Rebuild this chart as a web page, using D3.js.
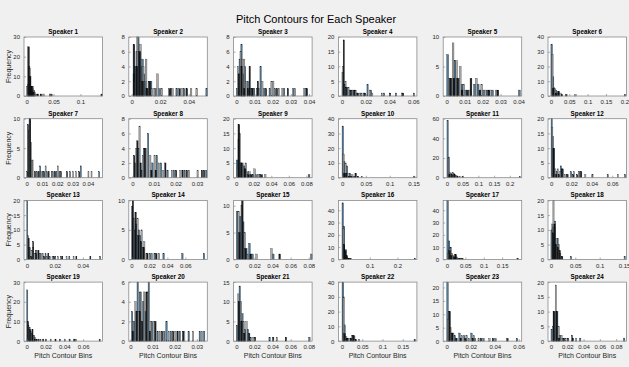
<!DOCTYPE html>
<html><head><meta charset="utf-8">
<script src="https://cdn.jsdelivr.net/npm/d3@7/dist/d3.min.js"></script>
<style>
html,body{margin:0;padding:0;background:#f0f0f0;}
svg{display:block;font-family:"Liberation Sans",Arial,Helvetica,sans-serif;}
</style></head>
<body><svg id="c" width="629" height="367"></svg>
<script>
const speakers = d3.range(1, 25).map(i => "Speaker " + i);
const xDomains = [
  [-0.005,0.141],[-0.002,0.053],[-0.0015,0.0417],[-0.003,0.063],[-0.002,0.0418],[-0.008,0.206],
  [-0.0018,0.0495],[-0.0017,0.0348],[-0.003,0.0865],[-0.0077,0.157],[-0.012,0.238],[-0.003,0.074],
  [-0.002,0.054],[-0.003,0.0845],[-0.003,0.0837],[-0.013,0.27],[-0.01,0.203],[-0.006,0.155],
  [-0.0029,0.0806],[-0.0007,0.0347],[-0.003,0.0837],[-0.009,0.185],[-0.003,0.0625],[-0.0037,0.0927]
];
const yMaxes = [30,8,8,20,10,40, 10,8,20,40,60,20, 20,10,11,48,48,20, 30,6,15,40,22,20];
const xTicks = [
  [0,0.05,0.1],[0,0.02,0.04],[0,0.01,0.02,0.03,0.04],[0,0.02,0.04,0.06],[0,0.01,0.02,0.03,0.04],[0,0.05,0.1,0.15,0.2],
  [0,0.01,0.02,0.03,0.04],[0,0.01,0.02,0.03],[0,0.02,0.04,0.06,0.08],[0,0.05,0.1,0.15],[0,0.05,0.1,0.15,0.2],[0,0.02,0.04,0.06],
  [0,0.02,0.04],[0,0.02,0.04,0.06],[0,0.02,0.04,0.06,0.08],[0,0.1,0.2],[0,0.05,0.1,0.15],[0,0.05,0.1,0.15],
  [0,0.02,0.04,0.06],[0,0.01,0.02,0.03],[0,0.02,0.04,0.06,0.08],[0,0.05,0.1,0.15],[0,0.02,0.04,0.06],[0,0.02,0.04,0.06,0.08]
];
const yTicks = [
  [0,10,20,30],[0,2,4,6,8],[0,2,4,6,8],[0,5,10,15,20],[0,5,10],[0,10,20,30,40],
  [0,5,10],[0,2,4,6,8],[0,5,10,15,20],[0,10,20,30,40],[0,20,40,60],[0,5,10,15,20],
  [0,5,10,15,20],[0,5,10],[0,5,10],[0,10,20,30,40],[0,10,20,30,40],[0,5,10,15,20],
  [0,10,20,30],[0,2,4,6],[0,5,10,15],[0,10,20,30,40],[0,5,10,15,20],[0,5,10,15,20]
];
const binWidths = [0.003,0.0012,0.0007,0.001,0.001,0.004, 0.0006,0.0006,0.002,0.003,0.004,0.0012,
  0.0007,0.0015,0.0017,0.005,0.004,0.0025, 0.0012,0.0006,0.0015,0.004,0.0012,0.0017];
const blueBins = [
  [[0,5],[0.003,15],[0.006,5],[0.009,4],[0.012,3],[0.015,1],[0.042,1],[0.138,1]],
  [[0.001,3],[0.002,4],[0.003,6],[0.004,8],[0.005,6],[0.006,4],[0.007,5],[0.008,3],[0.009,2],[0.011,1],[0.013,2],[0.016,1],[0.019,1],[0.027,1],[0.031,1],[0.036,1],[0.052,1]],
  [[0,1],[0.0015,5],[0.0025,7],[0.0035,3],[0.0045,4],[0.006,2],[0.008,1],[0.0095,1],[0.011,1],[0.013,4],[0.015,1],[0.018,1],[0.021,1],[0.026,1],[0.031,1],[0.038,1]],
  [[0,8],[0.002,4],[0.004,3],[0.006,2],[0.009,2],[0.012,1],[0.015,1],[0.018,1],[0.021,4],[0.024,2],[0.035,1],[0.045,1],[0.06,1]],
  [[0,7],[0.002,3],[0.004,6],[0.006,3],[0.008,2],[0.01,1],[0.015,2],[0.017,2],[0.02,1],[0.022,1],[0.025,1],[0.04,1]],
  [[0,35],[0.004,13],[0.008,5],[0.012,4],[0.02,3],[0.2,1]],
  [[0,1],[0.0015,10],[0.003,3],[0.0065,1],[0.0085,2],[0.01,1],[0.013,1],[0.016,1],[0.019,1],[0.021,1],[0.028,1],[0.035,2],[0.047,1]],
  [[0.001,2],[0.0025,4],[0.004,1],[0.005,4],[0.007,6],[0.009,2],[0.011,3],[0.013,2],[0.016,1],[0.019,1],[0.024,1],[0.034,1]],
  [[0,6],[0.002,13],[0.004,5],[0.008,4],[0.012,2],[0.018,1],[0.022,1],[0.026,1],[0.082,1]],
  [[0,35],[0.003,11],[0.009,8],[0.015,3],[0.024,1],[0.15,1]],
  [[0,58],[0.004,21],[0.012,4],[0.02,4],[0.028,2],[0.23,1]],
  [[0,20],[0.0012,14],[0.0024,10],[0.005,2],[0.009,4],[0.011,3],[0.019,2],[0.027,2],[0.04,1],[0.055,1],[0.072,1]],
  [[0,20],[0.0014,4],[0.0035,3],[0.006,3],[0.009,2],[0.013,2],[0.016,1],[0.02,1],[0.024,1],[0.03,1],[0.052,1]],
  [[0,9],[0.003,5],[0.0045,6],[0.0075,5],[0.009,4],[0.012,2],[0.02,1],[0.025,1],[0.035,1],[0.056,1],[0.08,1]],
  [[0,9],[0.0034,8],[0.0068,7],[0.0102,2],[0.0136,3],[0.017,1],[0.04,1],[0.082,1]],
  [[0,46],[0.005,27],[0.01,8],[0.02,1],[0.26,1]],
  [[0,48],[0.004,15],[0.008,10],[0.016,3],[0.024,2],[0.19,1]],
  [[0,10],[0.0025,11],[0.0075,13],[0.0125,7],[0.02,1],[0.04,1],[0.15,1]],
  [[0,26],[0.0024,7],[0.0048,4],[0.0072,3],[0.012,1],[0.02,1],[0.035,1],[0.045,1],[0.077,1]],
  [[0.0005,3],[0.0015,2],[0.003,6],[0.004,5],[0.0055,4],[0.0065,3],[0.008,6],[0.0095,2],[0.012,1],[0.015,1],[0.016,2],[0.018,1],[0.022,1],[0.026,1],[0.031,1],[0.033,1]],
  [[0,4],[0.003,14],[0.006,7],[0.009,3],[0.012,3],[0.015,1],[0.036,1],[0.08,1]],
  [[0,40],[0.004,11],[0.012,2],[0.024,4],[0.178,1]],
  [[0,22],[0.0012,11],[0.0036,3],[0.006,2],[0.01,3],[0.014,2],[0.02,3],[0.023,1],[0.03,1],[0.04,1],[0.058,1]],
  [[0,4],[0.0034,10],[0.0068,10],[0.0102,2],[0.013,1],[0.025,2],[0.035,1],[0.089,1]]
];
const grayBins = [
  [[0.001,6],[0.004,14],[0.007,4],[0.01,5],[0.013,2],[0.03,1],[0.045,1]],
  [[0.0015,2],[0.0035,8],[0.0055,7],[0.0075,4],[0.0095,5],[0.0115,2],[0.0135,1],[0.0155,1],[0.0175,3],[0.0205,1],[0.028,1],[0.035,1],[0.041,1],[0.045,1]],
  [[0.0005,4],[0.002,6],[0.003,5],[0.004,5],[0.005,2],[0.007,1],[0.009,1],[0.012,1],[0.014,2],[0.019,2],[0.02,2],[0.023,1],[0.025,1],[0.032,1],[0.037,1]],
  [[0.0005,10],[0.0025,5],[0.005,3],[0.008,2],[0.011,2],[0.016,1],[0.023,2],[0.025,1],[0.033,1],[0.05,1]],
  [[0.001,3],[0.003,9],[0.005,6],[0.007,5],[0.009,2],[0.012,1],[0.016,3],[0.019,2],[0.021,1],[0.024,1],[0.027,1]],
  [[0.002,28],[0.006,6],[0.01,4],[0.016,2],[0.024,2],[0.065,1]],
  [[0.001,8],[0.0025,6],[0.0035,3],[0.006,1],[0.009,1],[0.012,2],[0.017,1],[0.02,2],[0.03,1],[0.032,1],[0.04,1],[0.042,1]],
  [[0.0015,4],[0.003,7],[0.0045,3],[0.006,4],[0.008,3],[0.01,3],[0.012,2],[0.014,1],[0.018,1],[0.022,1],[0.026,1],[0.03,1]],
  [[0.001,3],[0.003,15],[0.006,5],[0.01,5],[0.014,2],[0.02,3],[0.024,1],[0.032,1]],
  [[0.0015,16],[0.006,10],[0.012,3],[0.02,2],[0.04,1]],
  [[0.002,20],[0.008,5],[0.016,5],[0.024,2],[0.04,1]],
  [[0.0006,17],[0.0036,3],[0.006,3],[0.0084,2],[0.013,1],[0.016,1],[0.022,2],[0.028,2],[0.033,1],[0.065,1]],
  [[0.0007,8],[0.0021,4],[0.004,4],[0.0055,2],[0.007,3],[0.01,2],[0.011,2],[0.014,1],[0.018,1],[0.022,1],[0.028,1],[0.033,1]],
  [[0.0015,7],[0.006,7],[0.0105,5],[0.0135,3],[0.016,1],[0.022,1],[0.03,1]],
  [[0.0017,9],[0.0051,10],[0.0085,5],[0.012,1],[0.0215,1],[0.038,2]],
  [[0.0025,25],[0.0075,6],[0.015,2]],
  [[0.002,5],[0.006,9],[0.012,5],[0.02,4],[0.028,1],[0.036,1]],
  [[0.0015,12],[0.004,20],[0.0065,11],[0.01,7],[0.015,5],[0.018,2]],
  [[0.0012,8],[0.0036,5],[0.006,3],[0.0084,2],[0.014,1],[0.025,1],[0.04,1],[0.052,1]],
  [[0.001,2],[0.002,4],[0.0035,3],[0.0045,5],[0.006,5],[0.0075,5],[0.009,2],[0.0105,2],[0.013,1],[0.017,1],[0.02,1],[0.024,1],[0.028,1],[0.032,1]],
  [[0.0015,12],[0.0045,10],[0.0075,5],[0.0105,5],[0.018,1],[0.044,1]],
  [[0.002,30],[0.008,3],[0.016,2],[0.028,3],[0.04,1]],
  [[0.0006,8],[0.0024,5],[0.0048,3],[0.008,1],[0.012,2],[0.016,2],[0.018,1],[0.022,2],[0.026,1],[0.035,1]],
  [[0.0017,5],[0.0051,19],[0.0085,5],[0.012,2],[0.017,1],[0.03,1]]
];
const blackBins = [
  [[0.002,25],[0.005,10],[0.008,5],[0.011,2],[0.019,1],[0.025,1]],
  [[0.001,7],[0.003,4],[0.005,6],[0.007,2],[0.01,1],[0.012,2],[0.026,1],[0.033,1],[0.038,1]],
  [[0.001,3],[0.0025,4],[0.004,1],[0.006,1],[0.007,4],[0.0085,1],[0.0115,2],[0.016,1],[0.022,1],[0.028,1],[0.0385,1]],
  [[0.001,19],[0.003,3],[0.007,2],[0.01,2],[0.013,1],[0.019,1],[0.04,1],[0.051,1]],
  [[0.0015,3],[0.0035,3],[0.0055,3],[0.008,1],[0.011,1],[0.013,3],[0.018,1],[0.023,1],[0.028,1]],
  [[0.004,5],[0.012,2],[0.018,3],[0.028,1],[0.04,1]],
  [[0.0005,9],[0.002,10],[0.005,1],[0.0075,1],[0.011,1],[0.014,1],[0.018,1],[0.022,1],[0.026,1],[0.034,1]],
  [[0.0005,3],[0.002,5],[0.0035,2],[0.0055,4],[0.0085,1],[0.0105,1],[0.015,2],[0.02,1],[0.023,1],[0.025,1],[0.032,1],[0.033,1]],
  [[0.002,18],[0.005,5],[0.009,3],[0.013,1],[0.016,1],[0.028,1]],
  [[0.003,3],[0.007,3],[0.013,1],[0.018,1],[0.027,3],[0.032,1]],
  [[0.006,3],[0.014,3],[0.022,3],[0.032,1],[0.048,1]],
  [[0.0018,10],[0.0045,1],[0.007,1],[0.01,3],[0.015,1],[0.021,1],[0.025,1],[0.029,2]],
  [[0.001,7],[0.0028,1],[0.0042,6],[0.0063,2],[0.008,3],[0.012,1],[0.015,2],[0.019,1],[0.025,1],[0.035,1],[0.045,1]],
  [[0.0008,10],[0.0038,8],[0.0068,4],[0.0098,3],[0.0128,2],[0.017,1],[0.027,1]],
  [[0.0025,5],[0.0058,11],[0.0092,2],[0.015,1],[0.047,1]],
  [[0.005,12],[0.01,7],[0.015,3],[0.022,1],[0.028,1]],
  [[0.005,7],[0.01,3],[0.018,2],[0.022,4],[0.032,1],[0.04,1]],
  [[0.003,9],[0.006,12],[0.009,5],[0.013,4],[0.017,3],[0.022,1]],
  [[0.0008,10],[0.003,6],[0.0055,6],[0.008,1],[0.01,1],[0.017,1],[0.03,1],[0.05,1]],
  [[0.0008,1],[0.0025,3],[0.004,3],[0.005,2],[0.007,5],[0.0085,1],[0.011,2],[0.014,1],[0.019,1],[0.021,1],[0.0235,1]],
  [[0.002,10],[0.005,5],[0.008,2],[0.0135,2],[0.02,1],[0.04,1],[0.054,1]],
  [[0.004,5],[0.01,2],[0.02,2],[0.026,4],[0.032,1]],
  [[0.0018,11],[0.004,3],[0.0072,1],[0.011,1],[0.015,1],[0.021,1],[0.028,1],[0.038,1],[0.05,1]],
  [[0.0025,10],[0.006,10],[0.009,1],[0.015,1],[0.02,1],[0.026,1]]
];
const seriesList = [
  {bins: blueBins, fill: "#3d6b8f", stroke: "#16222c", opacity: 0.9},
  {bins: grayBins, fill: "#8c8c8c", stroke: "#3a3a3a", opacity: 0.75},
  {bins: blackBins, fill: "#0d0d0d", stroke: "#000", opacity: 0.9}
];

const svg = d3.select("#c");
const colLeft = 24, colStep = 104.8, panelW = 78.5;
const rowTop = 37, rowStep = 81.7, panelH = 59;
const txt = "#262626";

svg.append("text").attr("x", 316).attr("y", 23).attr("text-anchor", "middle")
  .attr("font-size", 11).attr("fill", "#000").text("Pitch Contours for Each Speaker");

speakers.forEach((name, i) => {
  const r = Math.floor(i / 6), c = i % 6;
  const x0 = colLeft + c * colStep, y0 = rowTop + r * rowStep;
  const g = svg.append("g").attr("transform", `translate(${x0},${y0})`);
  const x = d3.scaleLinear().domain(xDomains[i]).range([0, panelW]);
  const y = d3.scaleLinear().domain([0, yMaxes[i]]).range([panelH, 0]);
  g.append("rect").attr("width", panelW).attr("height", panelH).attr("fill", "#fff");
  const bw = binWidths[i];
  seriesList.forEach(s => {
    g.append("g").selectAll("rect").data(s.bins[i]).join("rect")
      .attr("x", d => x(d[0]))
      .attr("width", d => Math.max(1, x(d[0] + bw) - x(d[0])))
      .attr("y", d => y(d[1]))
      .attr("height", d => panelH - y(d[1]))
      .attr("fill", s.fill).attr("fill-opacity", s.opacity)
      .attr("stroke", s.stroke).attr("stroke-width", 0.35);
  });
  const xa = d3.axisBottom(x).tickValues(xTicks[i]).tickFormat(d3.format("~g")).tickSize(-2).tickPadding(4);
  const ya = d3.axisLeft(y).tickValues(yTicks[i]).tickFormat(d3.format("~g")).tickSize(-2).tickPadding(4);
  const gx = g.append("g").attr("transform", `translate(0,${panelH})`).call(xa);
  const gy = g.append("g").call(ya);
  [gx, gy].forEach(a => {
    a.select(".domain").remove();
    a.selectAll("line").attr("stroke", "#777").attr("stroke-width", 0.6);
    a.selectAll("text").attr("font-size", 6).attr("fill", txt).attr("font-family", "Liberation Sans, Arial, sans-serif");
  });
  g.append("rect").attr("width", panelW).attr("height", panelH).attr("fill", "none")
    .attr("stroke", "#8a8a8a").attr("stroke-width", 0.8);
  g.append("text").attr("x", panelW / 2).attr("y", -3).attr("text-anchor", "middle")
    .attr("font-size", 6.3).attr("font-weight", "bold").attr("fill", "#000").text(name);
  if (c === 0) {
    g.append("text").attr("transform", `translate(-13,${panelH / 2}) rotate(-90)`)
      .attr("text-anchor", "middle").attr("font-size", 7).attr("fill", txt).text("Frequency");
  }
  if (r === 3) {
    g.append("text").attr("x", panelW / 2).attr("y", panelH + 17).attr("text-anchor", "middle")
      .attr("font-size", 7).attr("fill", txt).text("Pitch Contour Bins");
  }
});
</script></body></html>
